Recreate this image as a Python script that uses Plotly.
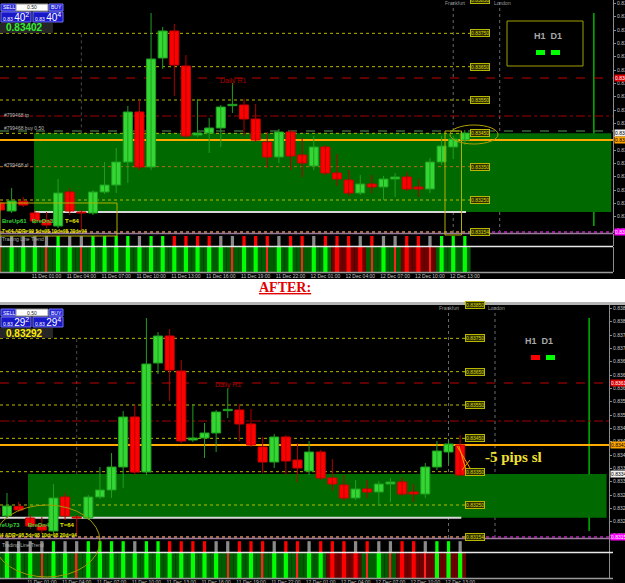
import plotly.graph_objects as go

W, H = 625, 583

# ---------------- data ----------------
top_open = [0.83241,0.83217,0.83246,0.83211,0.83190,0.83172,0.83274,0.83214,0.83211,0.83274,
            0.83295,0.83364,0.83514,0.83349,0.83676,0.83757,0.83652,0.83445,0.83451,0.83466,
            0.83533,0.83535,0.83493,0.83424,0.83379,0.83454,0.83385,0.83352,0.83409,0.83331,
            0.83310,0.83271,0.83298,0.83289,0.83313,0.83319,0.83289,0.83283,0.83364,0.83409,0.83430]
top_high = [0.83250,0.83286,0.83259,0.83220,0.83214,0.83313,0.83286,0.83220,0.83280,0.83364,
            0.83406,0.83532,0.83550,0.83811,0.83769,0.83778,0.83685,0.83553,0.83496,0.83535,
            0.83601,0.83553,0.83538,0.83454,0.83463,0.83460,0.83436,0.83442,0.83415,0.83388,
            0.83340,0.83325,0.83325,0.83322,0.83331,0.83334,0.83313,0.83376,0.83442,0.83442,0.83460]
top_low = [0.83214,0.83211,0.83229,0.83178,0.83166,0.83166,0.83205,0.83160,0.83205,0.83268,
           0.83271,0.83301,0.83340,0.83340,0.83643,0.83562,0.83436,0.83439,0.83391,0.83409,
           0.83511,0.83442,0.83424,0.83346,0.83361,0.83340,0.83319,0.83340,0.83325,0.83292,
           0.83262,0.83265,0.83271,0.83250,0.83259,0.83277,0.83259,0.83271,0.83355,0.83373,0.83415]
top_close = [0.83220,0.83247,0.83235,0.83187,0.83175,0.83271,0.83217,0.83211,0.83274,0.83295,
             0.83364,0.83514,0.83349,0.83673,0.83757,0.83655,0.83442,0.83451,0.83466,0.83529,
             0.83537,0.83493,0.83430,0.83379,0.83454,0.83382,0.83361,0.83409,0.83331,0.83313,
             0.83271,0.83298,0.83289,0.83313,0.83319,0.83283,0.83283,0.83364,0.83412,0.83433,0.83451]

# "after" chart: same history, last (live) candle fell
last_after = dict(o=0.83430, h=0.83460, l=0.83337, c=0.83340)
bot_open = top_open[:40] + [last_after["o"]]
bot_high = top_high[:40] + [last_after["h"]]
bot_low = top_low[:40] + [last_after["l"]]
bot_close = top_close[:40] + [last_after["c"]]

# signal indicator: n = neutral, u = up, d = down
top_signal = ["n","n","n","n","n","u","n","n","u","u","u","u","n","u","u","d","d","d","d","n",
              "n","d","d","d","n","d","d","n","d","d","d","n","d","n","n","d","d","n","u","u","u"]
bot_signal = top_signal[:40] + ["n"]
signal_on = [1] * 41

# histogram: G bright green, R bright red, t thin red ; background g / r
top_hist_fg = ["t","G","G","G","t","G","G","t","G","G","G","G","G","G","G","G","G","G","G","G",
               "t","G","G","t","G","G","t","G","G","R","R","R","t","G","t","R","R","t","G","G","G"]
top_hist_bg = ["g"]*29 + ["r","r","r"] + ["g","g","g"] + ["r","r","r"] + ["g","g","g"]
bot_hist_fg = top_hist_fg
bot_hist_bg = ["g"]*29 + ["r","r","r"] + ["g","g","g"] + ["r","r","r"] + ["r","r","r"]
hist_on = [1] * 41

levels = [0.8385, 0.8375, 0.8365, 0.8355, 0.8345, 0.8335, 0.8325, 0.83154]
daily_r1 = 0.83616
tp_level = 0.83502
buy_level = 0.83457
price_line = 0.83430
zone_top = (0.83214, 0.83450)
zone_bot = (0.83212, 0.83343)

time_ticks = [1, 4, 7, 10, 13, 16, 19, 22, 25, 28, 31, 34, 37, 40]
time_labels = ["10 Dec 22:00","11 Dec 01:00","11 Dec 04:00","11 Dec 07:00","11 Dec 10:00",
               "11 Dec 13:00","11 Dec 16:00","11 Dec 19:00","11 Dec 22:00","12 Dec 01:00",
               "12 Dec 04:00","12 Dec 07:00","12 Dec 10:00","12 Dec 13:00"]

# ---------------- helpers ----------------
def px(x):
    return x / W

def py(y):
    return 1 - y / H

GREEN_F, GREEN_L, GREEN_W = "#33d633", "#1f9f1f", "#1f9f1f"
RED_F, RED_L, RED_W = "#ff0000", "#d00000", "#b00000"
SANS = "Liberation Sans"

fig = go.Figure()

def add_candles(o, h, l, c, xa, ya):
    n = len(o)
    up = [i for i in range(n) if c[i] >= o[i]]
    dn = [i for i in range(n) if c[i] < o[i]]
    for idx, col in ((up, GREEN_W), (dn, RED_W)):
        xs, ys = [], []
        for i in idx:
            xs += [i, i, None]
            ys += [l[i], h[i], None]
        fig.add_trace(go.Scatter(x=xs, y=ys, mode="lines", line=dict(color=col, width=1),
                                 hoverinfo="skip", showlegend=False, xaxis=xa, yaxis=ya))
    fig.add_trace(go.Bar(x=up, base=[o[i] for i in up],
                         y=[max(c[i] - o[i], 0.00003) for i in up], width=0.78,
                         marker=dict(color=GREEN_F, line=dict(color=GREEN_L, width=1)),
                         showlegend=False, hoverinfo="skip", xaxis=xa, yaxis=ya))
    fig.add_trace(go.Bar(x=dn, base=[c[i] for i in dn],
                         y=[max(o[i] - c[i], 0.00003) for i in dn], width=0.78,
                         marker=dict(color=RED_F, line=dict(color=RED_L, width=1)),
                         showlegend=False, hoverinfo="skip", xaxis=xa, yaxis=ya))

def add_signal(sig, xa, ya):
    cmap = {"n": "#8a8a8a", "u": "#00ff00", "d": "#ff0000"}
    fig.add_trace(go.Bar(x=list(range(len(sig))), y=signal_on[:len(sig)], width=0.28,
                         marker=dict(color=[cmap[s] for s in sig], line=dict(width=0)),
                         showlegend=False, hoverinfo="skip", xaxis=xa, yaxis=ya))

def add_hist(fg, bg, xa, ya):
    n = len(fg)
    bmap = {"g": "#005c00", "r": "#6e0000"}
    fig.add_trace(go.Bar(x=list(range(n)), y=hist_on[:n], width=1.0,
                         marker=dict(color=[bmap[b] for b in bg], line=dict(width=0)),
                         showlegend=False, hoverinfo="skip", xaxis=xa, yaxis=ya))
    thick = [i for i in range(n) if fg[i] in "GR"]
    fig.add_trace(go.Bar(x=thick, y=[hist_on[i] for i in thick], width=0.36,
                         marker=dict(color=["#00ff00" if fg[i] == "G" else "#ff0000" for i in thick],
                                     line=dict(width=0)),
                         showlegend=False, hoverinfo="skip", xaxis=xa, yaxis=ya))
    thin = [i for i in range(n) if fg[i] == "t"]
    fig.add_trace(go.Bar(x=thin, y=[hist_on[i] for i in thin], width=0.12,
                         marker=dict(color="#ff2020", line=dict(width=0)),
                         showlegend=False, hoverinfo="skip", xaxis=xa, yaxis=ya))

add_candles(top_open, top_high, top_low, top_close, "x", "y")
add_signal(top_signal, "x2", "y2")
add_hist(top_hist_fg, top_hist_bg, "x3", "y3")
add_candles(bot_open, bot_high, bot_low, bot_close, "x4", "y4")
add_signal(bot_signal, "x5", "y5")
add_hist(bot_hist_fg, bot_hist_bg, "x6", "y6")

shapes = []
annotations = []

# black panels
shapes.append(dict(type="rect", xref="paper", yref="paper", x0=0, x1=1, y0=py(279), y1=1,
                   fillcolor="#000000", line=dict(width=0), layer="below"))
shapes.append(dict(type="rect", xref="paper", yref="paper", x0=0, x1=1, y0=0, y1=py(304),
                   fillcolor="#000000", line=dict(width=0), layer="below"))
shapes.append(dict(type="rect", xref="paper", yref="paper", x0=0, x1=1, y0=py(305), y1=py(302),
                   fillcolor="#b4b4b4", line=dict(width=0), layer="below"))

def chart_shapes(xa, ya, xmin, xmax, zone, zone_x0, white_x0, top_chart):
    s = []
    s.append(dict(type="line", xref=xa, yref=ya, x0=51.1, x1=51.1, y0=0.83172, y1=0.83811,
                  line=dict(color="#00b400", width=1.5), layer="below"))
    for xv in (39, 43):
        s.append(dict(type="line", xref=xa, yref=ya, x0=xv, x1=xv, y0=0.83151, y1=0.8385,
                      line=dict(color="#6a6a6a", width=1, dash="dot"), layer="below"))
    s.append(dict(type="line", xref=xa, yref=ya, x0=7, x1=7, y0=zone[1], y1=0.8375,
                  line=dict(color="#4a4a4a", width=1, dash="dot"), layer="below"))
    s.append(dict(type="rect", xref=xa, yref=ya, x0=zone_x0, x1=52.6, y0=zone[0], y1=zone[1],
                  fillcolor="#006a00", line=dict(width=0), layer="below"))
    for lv in levels[1:7]:
        col = "#b8b800"
        if top_chart and abs(lv - 0.8335) < 1e-6:
            col = "#b86a10"
        s.append(dict(type="line", xref=xa, yref=ya, x0=xmin, x1=40.45, y0=lv, y1=lv,
                      line=dict(color=col, width=1, dash="dot"), layer="below"))
    s.append(dict(type="line", xref=xa, yref=ya, x0=xmin, x1=xmax, y0=levels[7], y1=levels[7],
                  line=dict(color="#8a1a8a", width=2, dash="dot"), layer="below"))
    s.append(dict(type="line", xref=xa, yref=ya, x0=xmin, x1=40.45, y0=levels[7], y1=levels[7],
                  line=dict(color="#b8b800", width=1, dash="dot"), layer="below"))
    s.append(dict(type="line", xref=xa, yref=ya, x0=xmin, x1=xmax, y0=daily_r1, y1=daily_r1,
                  line=dict(color="#c00000", width=1, dash="dash"), layer="below"))
    s.append(dict(type="line", xref=xa, yref=ya, x0=xmin, x1=xmax, y0=tp_level, y1=tp_level,
                  line=dict(color="#a00000", width=1, dash="dashdot"), layer="below"))
    if top_chart:
        s.append(dict(type="line", xref=xa, yref=ya, x0=xmin, x1=xmax, y0=buy_level, y1=buy_level,
                      line=dict(color="#3a6a3a", width=1.5, dash="dash"), layer="below"))
    s.append(dict(type="line", xref=xa, yref=ya, x0=xmin, x1=xmax, y0=price_line, y1=price_line,
                  line=dict(color="#ffaa00", width=2), layer="below"))
    s.append(dict(type="line", xref=xa, yref=ya, x0=white_x0, x1=40.1, y0=zone[0], y1=zone[0],
                  line=dict(color="#d8d8d8", width=2), layer="below"))
    return s

shapes += chart_shapes("x", "y", 0, 52.75, zone_top, 2.93, 2.93, True)
shapes += chart_shapes("x4", "y4", 0.40, 52.81, zone_bot, 2.81, 0.40, False)

for yv, col in ((233.5, "#9a7a9a"), (246.5, "#e8e8e8"), (272.5, "#9a9a9a"),
                (538.5, "#9a7a9a"), (552.5, "#e8e8e8"), (578.5, "#9a9a9a")):
    shapes.append(dict(type="line", xref="paper", yref="paper", x0=0, x1=px(613), y0=py(yv), y1=py(yv),
                       line=dict(color=col, width=1.5)))

shapes.append(dict(type="rect", xref="paper", yref="paper", x0=px(0), x1=px(117), y0=py(236), y1=py(203),
                   line=dict(color="#b0b000", width=1)))
shapes.append(dict(type="rect", xref="paper", yref="paper", x0=px(445), x1=px(461.5), y0=py(235), y1=py(131),
                   line=dict(color="#b0b000", width=1)))
shapes.append(dict(type="circle", xref="paper", yref="paper", x0=px(450), x1=px(498), y0=py(144), y1=py(125),
                   line=dict(color="#b0a000", width=1)))
shapes.append(dict(type="circle", xref="paper", yref="paper", x0=px(-6), x1=px(100), y0=py(577), y1=py(505),
                   line=dict(color="#a09a00", width=1)))
for (x0, y0, x1, y1) in ((457, 446, 470, 468), (459, 446, 466, 470), (462, 470, 470, 460)):
    shapes.append(dict(type="line", xref="paper", yref="paper", x0=px(x0), x1=px(x1), y0=py(y0), y1=py(y1),
                       line=dict(color="#ff9a00", width=1)))

shapes.append(dict(type="rect", xref="paper", yref="paper", x0=px(507), x1=px(583), y0=py(66), y1=py(21),
                   line=dict(color="#a0a000", width=1)))
for (x0, x1, y0, y1, col) in ((536, 545, 50, 55, "#00ff00"), (551, 560, 50, 55, "#00ff00"),
                              (531, 540, 355, 360, "#ff0000"), (546, 555, 355, 360, "#00ff00")):
    shapes.append(dict(type="rect", xref="paper", yref="paper", x0=px(x0), x1=px(x1), y0=py(y1), y1=py(y0),
                       fillcolor=col, line=dict(width=0)))

def ann(x, y, text, size=5, color="#c0c0c0", xanchor="left", family=SANS, **kw):
    annotations.append(dict(xref="paper", yref="paper", x=px(x), y=py(y), text=text, showarrow=False,
                            xanchor=xanchor, yanchor="middle", font=dict(size=size, color=color, family=family),
                            **kw))

ann(548, 36, "<b>H1  D1</b>", 9, "#a8a8a8", "center")
ann(539, 341, "<b>H1  D1</b>", 9, "#a8a8a8", "center")

def widget(y0, price_text, price_color):
    for (x0, x1, ya, yb, fill) in ((1, 16, 4, 11, "#2828d8"), (49, 63, 4, 11, "#2828d8"),
                                   (1, 31, 12, 22, "#1818c8"), (33, 63, 12, 22, "#1818c8")):
        shapes.append(dict(type="rect", xref="paper", yref="paper", x0=px(x0), x1=px(x1),
                           y0=py(y0 + yb), y1=py(y0 + ya), fillcolor=fill, line=dict(color="#7070ff", width=1)))
    shapes.append(dict(type="rect", xref="paper", yref="paper", x0=px(16), x1=px(48),
                       y0=py(y0 + 11), y1=py(y0 + 4), fillcolor="#ffffff", line=dict(color="#909090", width=1)))
    shapes.append(dict(type="rect", xref="paper", yref="paper", x0=px(0), x1=px(53),
                       y0=py(y0 + 33), y1=py(y0 + 23), fillcolor="#262626", line=dict(width=0)))
    ann(8.5, y0 + 7.5, "SELL", 5, "#ffffff", "center")
    ann(56, y0 + 7.5, "BUY", 5, "#ffffff", "center")
    ann(32, y0 + 7.5, "0.50", 5, "#202020", "center")
    ann(16, y0 + 17, "<span style='font-size:5px'>0.83 </span>" + price_text[4:6] + "<sup>" + price_text[6] + "</sup>",
        10, "#ffffff", "center")
    ann(48, y0 + 17, "<span style='font-size:5px'>0.83 </span>" + price_text[4:6] + "<sup>4</sup>",
        10, "#ffffff", "center")
    ann(4, y0 + 28, "<b>" + price_text + "</b>", 10, price_color, "left")

widget(0, "0.83402", "#33ee33")
widget(305, "0.83292", "#ffee00")

for (x, y, t) in ((455, 3, "Frankfurt"), (502, 3, "London"), (449, 308, "Frankfurt"), (496, 308, "London")):
    ann(x, y, t, 5, "#9a9a9a", "center")

ann(233, 81, "Daily R1", 7, "#b00000", "center")
ann(228, 385, "Daily R1", 7, "#b00000", "center")
ann(2, 115, "#799468 tp", 5, "#b8b8b8")
ann(2, 128, "#799468 buy 0.50", 5, "#b8b8b8")
ann(2, 165, "#799468 sl", 5, "#b8b8b8")

ann(0, 221, "<b>BreUp61</b>", 6, "#3ad03a")
ann(30, 221, "<b>BreDn33</b>", 6, "#3ad03a")
ann(63, 221, "<b>T=64</b>", 6, "#e8e800")
ann(0, 231, "<b>T=64 ADR=99 5d=98 10d=98 20d=94</b>", 5, "#e8e800")
ann(0, 239, "Trading Line Trend", 5, "#b0b0b0")
ann(-7, 525, "<b>BreUp73</b>", 6, "#3ad03a")
ann(26, 525, "<b>BreDn42</b>", 6, "#3ad03a")
ann(58, 525, "<b>T=64</b>", 6, "#e8e800")
ann(-10, 535, "<b>T=64 ADR=98 5d=98 10d=98 20d=94</b>", 5, "#e8e800")
ann(0, 545, "Trading Line Trend", 5, "#b0b0b0")

ann(513, 457, "<b>-5 pips sl</b>", 15, "#f2e030", "center", family="Liberation Serif")
ann(285, 288, "<b><u>AFTER:</u></b>", 14, "#e00000", "center", family="Liberation Serif")

def level_labels(xa, ya, xv):
    for lv in levels:
        annotations.append(dict(xref=xa, yref=ya, x=xv, y=lv, text="%.5f" % lv, showarrow=False,
                                xanchor="left", yanchor="middle", bgcolor="#2e2e00", bordercolor="#b8b800",
                                borderwidth=1, borderpad=0, font=dict(size=5, color="#d8d800", family=SANS)))

level_labels("x", "y", 40.45)
level_labels("x4", "y4", 40.42)

def tag(xa, ya, x_left, lv, fill, tcol):
    annotations.append(dict(xref="paper", yref=ya, x=px(x_left), y=lv, text="%.5f" % lv, showarrow=False,
                            xanchor="left", yanchor="middle", bgcolor=fill, borderpad=0,
                            font=dict(size=5, color=tcol, family=SANS)))

tag("x", "y", 614, daily_r1, "#e00000", "#ffffff")
tag("x", "y", 614, zone_top[1], "#f0f0f0", "#000000")
tag("x", "y", 614, price_line, "#ffa500", "#000000")
tag("x", "y", 614, levels[7], "#ff00ff", "#ffffff")
tag("x4", "y4", 610, daily_r1, "#e00000", "#ffffff")
tag("x4", "y4", 610, price_line, "#ffa500", "#000000")
tag("x4", "y4", 610, zone_bot[1], "#f0f0f0", "#000000")
tag("x4", "y4", 610, levels[7], "#ff00ff", "#ffffff")

def xax(dom_right, rng, anchor, labels=False):
    d = dict(domain=[0, dom_right], range=rng, anchor=anchor, showgrid=False, zeroline=False,
             showline=False, automargin=False, fixedrange=True, ticks="")
    if labels:
        d.update(showticklabels=True, tickmode="array", tickvals=time_ticks, ticktext=time_labels,
                 tickfont=dict(size=5, color="#c8c8c8", family=SANS))
    else:
        d.update(showticklabels=False)
    return d

def yax(dom, rng, anchor, price=False):
    d = dict(domain=dom, range=rng, anchor=anchor, side="right", showgrid=False, zeroline=False,
             showline=True, linecolor="#8c8c8c", linewidth=1, automargin=False, fixedrange=True)
    if price:
        d.update(showticklabels=True, ticks="outside", ticklen=2, tickcolor="#8c8c8c",
                 dtick=0.0004, tick0=0.8300, tickformat=".5f",
                 tickfont=dict(size=5, color="#c8c8c8", family=SANS))
    else:
        d.update(showticklabels=False, ticks="")
    return d

xr_top = [0, 52.75]
xr_bot = [0.40, 52.81]
pr = [0.83151, 0.83850]

fig.update_layout(
    width=W, height=H, margin=dict(l=0, r=0, t=0, b=0), template="none",
    paper_bgcolor="#ffffff", plot_bgcolor="rgba(0,0,0,0)", barmode="overlay", showlegend=False,
    xaxis=xax(613 / W, xr_top, "y"),
    yaxis=yax([py(233), py(0)], pr, "x", True),
    xaxis2=xax(613 / W, xr_top, "y2"),
    yaxis2=yax([py(246), py(234)], [0, 1.2], "x2"),
    xaxis3=xax(613 / W, xr_top, "y3", True),
    yaxis3=yax([py(272), py(247)], [0, 1], "x3"),
    xaxis4=xax(609 / W, xr_bot, "y4"),
    yaxis4=yax([py(538), py(305)], pr, "x4", True),
    xaxis5=xax(609 / W, xr_bot, "y5"),
    yaxis5=yax([py(552), py(539)], [0, 1.2], "x5"),
    xaxis6=xax(609 / W, xr_bot, "y6", True),
    yaxis6=yax([py(578), py(553)], [0, 1], "x6"),
    shapes=shapes, annotations=annotations,
)

fig.write_html("out.html", config={"displayModeBar": False})
